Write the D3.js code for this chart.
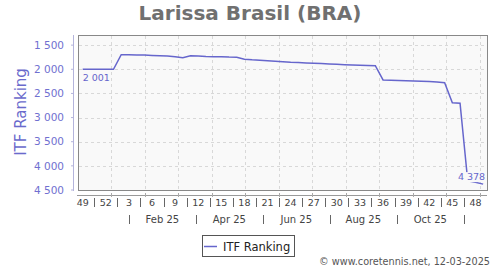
<!DOCTYPE html>
<html>
<head>
<meta charset="utf-8">
<script src="https://d3js.org/d3.v7.min.js"></script>
<style>
  body { margin: 0; background: white; }
  text { font-family: "DejaVu Sans", sans-serif; }
</style>
</head>
<body>
<script>
// ISO week of each weekly ranking, Dec 2024 -> Dec 2025
var weeks = [49, 50, 51, 52, 1, 2, 3, 4, 5, 6, 7, 8, 9, 10, 11, 12, 13, 14, 15, 16,
             17, 18, 19, 20, 21, 22, 23, 24, 25, 26, 27, 28, 29, 30, 31, 32, 33, 34,
             35, 36, 37, 38, 39, 40, 41, 42, 43, 44, 45, 46, 47, 48, 49];
var ranks = [2001, 2001, 2001, 2001, 2001, 1698, 1700, 1702, 1706, 1712, 1718, 1726,
             1740, 1760, 1718, 1725, 1735, 1738, 1740, 1748, 1750, 1790, 1805, 1815,
             1825, 1832, 1842, 1855, 1862, 1868, 1875, 1882, 1890, 1898, 1905, 1912,
             1918, 1922, 1925, 2221, 2225, 2232, 2240, 2245, 2250, 2255, 2262, 2277,
             2692, 2704, 4313, 4340, 4378];
var yTicks = [1500, 2000, 2500, 3000, 3500, 4000, 4500];
var months = ["Feb 25", "Apr 25", "Jun 25", "Aug 25", "Oct 25"];

var width = 500, height = 270;
var plotL = 78, plotR = 487, plotT = 35, plotB = 190;
var lineColor = "#6666cc";

var svg = d3.select("body").append("svg")
  .attr("width", width)
  .attr("height", height);

var x = d3.scaleLinear().domain([-0.61, 52.5]).range([plotL, plotR]);
var y = d3.scaleLinear().domain([1290, 4500]).range([plotT, plotB]);

// title
svg.append("text")
  .attr("x", 250).attr("y", 20)
  .attr("text-anchor", "middle")
  .attr("font-size", "20px").attr("font-weight", "bold")
  .attr("fill", "#707070")
  .text("Larissa Brasil (BRA)");

// plot box
svg.append("rect")
  .attr("x", plotL + 0.5).attr("y", plotT + 0.5)
  .attr("width", plotR - plotL).attr("height", plotB - plotT)
  .attr("fill", "#f9f9f9")
  .attr("stroke", "#888");

// grid, one line per average month
var monthStep = 365.25 / 12 / 7;
var gridX = d3.range(1, 13).map(function(k) { return -0.61 + k * monthStep; });

svg.append("g").selectAll("line")
  .data(yTicks.slice(0, -1))
  .enter().append("line")
  .attr("x1", plotL + 1).attr("x2", plotR)
  .attr("y1", function(d) { return Math.round(y(d)) + 0.5; })
  .attr("y2", function(d) { return Math.round(y(d)) + 0.5; })
  .attr("stroke", "#d8d8d8").attr("stroke-dasharray", "3,3");

svg.append("g").selectAll("line")
  .data(gridX)
  .enter().append("line")
  .attr("x1", function(d) { return Math.round(x(d)) + 0.5; })
  .attr("x2", function(d) { return Math.round(x(d)) + 0.5; })
  .attr("y1", plotT + 1).attr("y2", plotB)
  .attr("stroke", "#d8d8d8").attr("stroke-dasharray", "3,3");

// y axis
svg.append("line")
  .attr("x1", 73.5).attr("x2", 73.5)
  .attr("y1", plotT).attr("y2", plotB + 1)
  .attr("stroke", "#b4b4dc");

var yAx = svg.append("g").selectAll("g")
  .data(yTicks)
  .enter().append("g")
  .attr("transform", function(d) { return "translate(0," + y(d) + ")"; });
yAx.append("line")
  .attr("x1", 71).attr("x2", 73.5)
  .attr("stroke", "#b4b4dc");
yAx.append("text")
  .attr("x", 64).attr("dy", "0.36em")
  .attr("text-anchor", "end")
  .attr("font-size", "10.5px")
  .attr("fill", "#7070d0")
  .text(function(d) { return d3.format(",")(d).replace(",", " "); });

svg.append("text")
  .attr("transform", "translate(26,112) rotate(-90)")
  .attr("text-anchor", "middle")
  .attr("font-size", "15px")
  .attr("fill", "#6a6acc")
  .text("ITF Ranking");

// x axis
svg.append("line")
  .attr("x1", 77).attr("x2", plotR)
  .attr("y1", 195.5).attr("y2", 195.5)
  .attr("stroke", "#999");

svg.append("g").selectAll("line")
  .data(gridX)
  .enter().append("line")
  .attr("x1", function(d) { return Math.round(x(d)) + 0.5; })
  .attr("x2", function(d) { return Math.round(x(d)) + 0.5; })
  .attr("y1", 193).attr("y2", 197)
  .attr("stroke", "#aaa");

var labelIdx = d3.range(0, weeks.length - 1, 3);

svg.append("g").selectAll("text")
  .data(labelIdx)
  .enter().append("text")
  .attr("x", function(i) { return x(i); })
  .attr("y", 205.5)
  .attr("text-anchor", "middle")
  .attr("font-size", "9.5px")
  .attr("fill", "#444")
  .text(function(i) { return weeks[i]; });

svg.append("g").selectAll("line")
  .data(labelIdx.slice(1))
  .enter().append("line")
  .attr("x1", function(i) { return Math.round(x(i - 1.5)) + 0.5; })
  .attr("x2", function(i) { return Math.round(x(i - 1.5)) + 0.5; })
  .attr("y1", 198).attr("y2", 207)
  .attr("stroke", "#666");

// month row, one label per two months
var twoMonths = 2 * monthStep;
svg.append("g").selectAll("line")
  .data(d3.range(months.length + 1))
  .enter().append("line")
  .attr("x1", function(k) { return Math.round(x(6 + k * twoMonths)) + 0.5; })
  .attr("x2", function(k) { return Math.round(x(6 + k * twoMonths)) + 0.5; })
  .attr("y1", 215).attr("y2", 224)
  .attr("stroke", "#666");

svg.append("g").selectAll("text")
  .data(months)
  .enter().append("text")
  .attr("x", function(d, k) { return x(6 + (k + 0.5) * twoMonths); })
  .attr("y", 222.5)
  .attr("text-anchor", "middle")
  .attr("font-size", "10px")
  .attr("fill", "#444")
  .text(function(d) { return d; });

// series
var line = d3.line()
  .x(function(d, i) { return x(i); })
  .y(function(d) { return y(d); });

svg.append("path")
  .datum(ranks)
  .attr("d", line)
  .attr("fill", "none")
  .attr("stroke", lineColor)
  .attr("stroke-width", 1.5);

// first / last value labels
var fmt = function(v) { return d3.format(",")(v).replace(",", " "); };
svg.append("text")
  .attr("x", x(0)).attr("y", y(ranks[0]) + 12)
  .attr("font-size", "9.5px")
  .attr("fill", lineColor)
  .text(fmt(ranks[0]));

var lastI = ranks.length - 1;
svg.append("rect")
  .attr("x", x(lastI) - 25).attr("y", y(ranks[lastI]) - 12)
  .attr("width", 27).attr("height", 10)
  .attr("fill", "#f9f9f9");
svg.append("text")
  .attr("x", x(lastI) + 2).attr("y", y(ranks[lastI]) - 4)
  .attr("text-anchor", "end")
  .attr("font-size", "9.5px")
  .attr("fill", lineColor)
  .text(fmt(ranks[lastI]));

// legend
svg.append("rect")
  .attr("x", 202.5).attr("y", 235.5)
  .attr("width", 92).attr("height", 21)
  .attr("fill", "white")
  .attr("stroke", "#555");
svg.append("line")
  .attr("x1", 204).attr("x2", 217)
  .attr("y1", 246.5).attr("y2", 246.5)
  .attr("stroke", lineColor).attr("stroke-width", 1.5);
svg.append("text")
  .attr("x", 223).attr("y", 250.5)
  .attr("font-size", "11.5px")
  .attr("fill", "#222")
  .text("ITF Ranking");

svg.append("text")
  .attr("x", 490).attr("y", 265)
  .attr("text-anchor", "end")
  .attr("font-size", "9.7px")
  .attr("fill", "#555")
  .text("\u00a9 www.coretennis.net, 12-03-2025");
</script>
</body>
</html>
